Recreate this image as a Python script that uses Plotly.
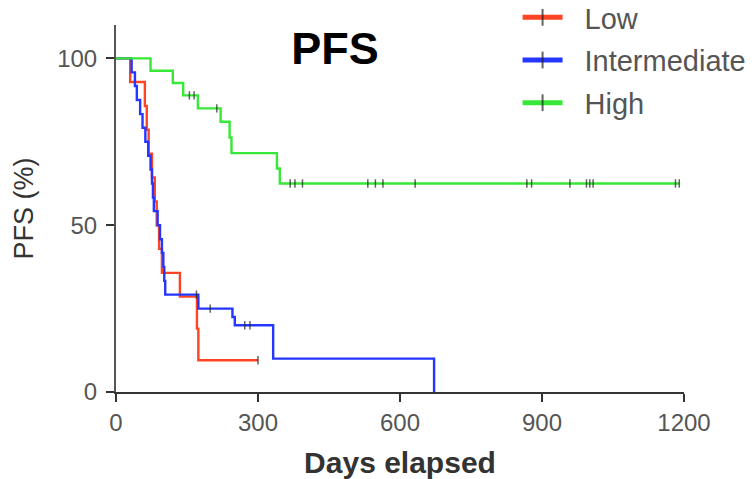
import plotly.graph_objects as go

# Kaplan-Meier progression-free survival by risk group
# event days and survival (%) just after each event; censored days separately
low_event_days = [30, 61, 65, 69, 76, 82, 86, 91, 97, 135, 171, 174]
low_surv = [92.9, 85.7, 78.6, 71.4, 64.3, 57.1, 50.0, 42.9, 35.7, 28.6, 19.0, 9.5]
low_censor_days = [300]

int_event_days = [33, 40, 44, 51, 56, 62, 68, 73, 76, 78, 80, 88, 93, 97, 100, 102,
                  104, 174, 246, 251, 332, 672]
int_surv = [95.8, 91.7, 87.5, 83.3, 79.2, 75.0, 70.8, 66.7, 62.5, 58.3, 54.2, 50.0,
            45.8, 41.7, 37.5, 33.3, 29.2, 25.0, 22.5, 20.0, 10.0, 0.0]
int_censor_days = [170, 199, 272, 283]

high_event_days = [73, 120, 142, 173, 221, 240, 244, 340, 346]
high_surv = [96.3, 92.6, 88.9, 85.0, 81.0, 76.3, 71.6, 67.0, 62.5]
high_censor_days = [155, 165, 213, 368, 378, 394, 532, 548, 564, 632, 868, 878,
                    959, 994, 1001, 1008, 1182, 1190]

groups = [
    ("Low", low_event_days, low_surv, low_censor_days, "#ff4424"),
    ("Intermediate", int_event_days, int_surv, int_censor_days, "#2436ff"),
    ("High", high_event_days, high_surv, high_censor_days, "#38e838"),
]

FONT = "Liberation Sans, Arial, sans-serif"
LEGEND_PAD = "\u2002\u200a"  # gap between legend line sample and its label


def km_points(event_days, surv, censor_days):
    """Step-curve vertices plus a flag marking censored observations."""
    items = [(d, s, False) for d, s in zip(event_days, surv)]
    items += [(d, None, True) for d in censor_days]
    items.sort(key=lambda it: it[0])
    xs, ys, cens = [0], [100.0], [False]
    level = 100.0
    for d, s, c in items:
        if not c:
            level = s
        xs.append(d)
        ys.append(level)
        cens.append(c)
    return xs, ys, cens


fig = go.Figure()
for name, ev, sv, cd, color in groups:
    xs, ys, cens = km_points(ev, sv, cd)
    fig.add_trace(go.Scatter(
        x=xs, y=ys, name=LEGEND_PAD + name, legendgroup=name,
        mode="lines+markers",
        line=dict(shape="hv", color=color, width=2.4),
        marker=dict(symbol="line-ns", size=[6 if c else 0 for c in cens],
                    color="#222", line=dict(color="#222", width=1.5)),
        cliponaxis=False,
    ))

fig.update_layout(
    width=756, height=479,
    margin=dict(l=116, r=72, t=25, b=87, autoexpand=False),
    paper_bgcolor="white", plot_bgcolor="white",
    font=dict(family=FONT, color="#444"),
    title=dict(text="<b>PFS</b>", x=0.443, xanchor="center", y=0.9, yanchor="middle",
               font=dict(family=FONT, size=45, color="black")),
    showlegend=True,
    legend=dict(x=0.707, xanchor="left", y=1.09, yanchor="top",
                font=dict(family=FONT, size=29, color="#555"),
                bgcolor="rgba(0,0,0,0)", itemsizing="constant",
                tracegroupgap=2, itemwidth=40),
)
fig.update_xaxes(
    range=[0, 1200], tickvals=[0, 300, 600, 900, 1200],
    showline=True, linecolor="#333", linewidth=2,
    ticks="outside", ticklen=8, tickwidth=2, tickcolor="#333",
    showgrid=False, zeroline=False,
    tickfont=dict(family=FONT, size=24, color="#555"),
    title=dict(text="<b>Days elapsed</b>", standoff=18,
               font=dict(family=FONT, size=30, color="#333")),
)
fig.update_yaxes(
    range=[0, 110], tickvals=[0, 50, 100],
    showline=True, linecolor="#555", linewidth=2,
    ticks="outside", ticklen=8, tickwidth=2, tickcolor="#333",
    ticklabelstandoff=4,
    showgrid=False, zeroline=False,
    tickfont=dict(family=FONT, size=24, color="#555"),
    title=dict(text="PFS (%)", standoff=16,
               font=dict(family=FONT, size=27, color="#333")),
)

fig.write_html("out.html")
